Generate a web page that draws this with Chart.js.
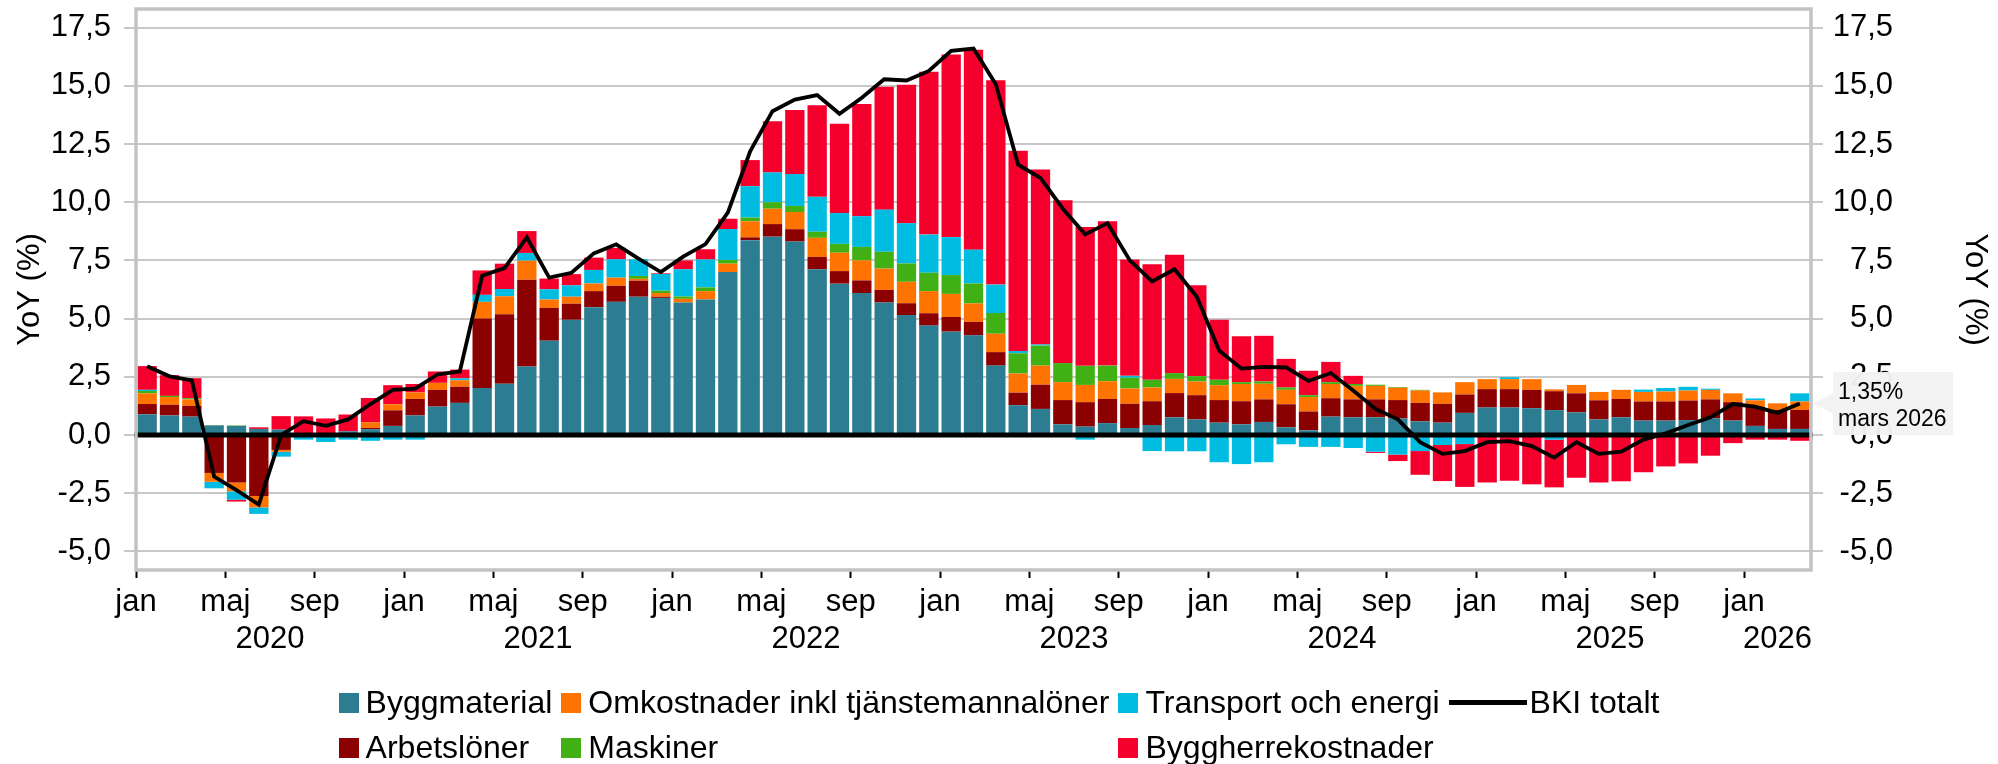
<!DOCTYPE html>
<html lang="sv">
<head>
<meta charset="utf-8">
<title>BKI totalt</title>
<script src="https://cdn.jsdelivr.net/npm/chart.js@4.4.1/dist/chart.umd.min.js"></script>
<style>
  html, body { margin: 0; padding: 0; background: #fff; }
  #wrap { position: relative; width: 1998px; height: 764px; }
  #legend {
    position: absolute; left: 0; top: 684px; width: 1998px;
    display: grid; grid-template-columns: repeat(4, auto); justify-content: center;
    column-gap: 9px; row-gap: 8px;
    font: 32px "Liberation Sans", Arial, sans-serif; color: #000;
  }
  .item { display: flex; align-items: center; height: 37px; white-space: nowrap; }
  .box { width: 20px; height: 20px; margin-right: 7px; }
  .line { width: 78px; height: 5px; background: #000; margin-right: 3px; }
</style>
</head>
<body>
<div id="wrap">
  <canvas id="myChart" width="1998" height="764"></canvas>
  <div id="legend"></div>
</div>
<script>
// months and labels
const monthNames = ['jan', 'feb', 'mar', 'apr', 'maj', 'jun', 'jul', 'aug', 'sep', 'okt', 'nov', 'dec'];
const monthNamesLong = ['januari', 'februari', 'mars', 'april', 'maj', 'juni', 'juli', 'augusti', 'september', 'oktober', 'november', 'december'];
const yearLabels = ['2020', '2021', '2022', '2023', '2024', '2025', '2026'];
const monthCount = 75; // jan 2020 - mars 2026
const yTicks = [-5, -2.5, 0, 2.5, 5, 7.5, 10, 12.5, 15, 17.5];

let categories = [];
for (let i = 0; i < monthCount; i++) {
  categories.push(monthNames[i % 12] + ' ' + yearLabels[Math.floor(i / 12)]);
}

// YoY contributions (%)
const byggmaterial = [0.89,0.84,0.79,0.41,0.39,0.26,0.23,0.05,0.05,0.16,0.25,0.39,
  0.84,1.22,1.38,2.02,2.20,2.94,4.05,4.95,5.49,5.72,5.94,5.89,
  5.69,5.82,7.00,8.37,8.52,8.31,7.12,6.50,6.10,5.69,5.15,4.70,
  4.44,4.28,2.98,1.28,1.12,0.46,0.36,0.51,0.30,0.43,0.76,0.67,
  0.53,0.46,0.56,0.33,0.20,0.79,0.76,0.76,0.71,0.59,0.53,0.95,
  1.18,1.18,1.15,1.07,0.97,0.67,0.76,0.62,0.62,0.64,0.72,0.62,
  0.39,0.26,0.26];
const arbetsloner = [0.44,0.46,0.46,-1.63,-2.04,-2.62,-0.64,0,0,0,0.05,0.67,
  0.71,0.72,0.69,2.98,2.99,3.73,1.41,0.69,0.69,0.69,0.69,0.05,
  0,0,0,0.12,0.54,0.53,0.53,0.54,0.54,0.54,0.51,0.53,
  0.63,0.58,0.58,0.54,1.04,1.04,1.05,1.04,1.04,1.02,1.04,1.04,
  0.97,0.99,0.97,0.99,0.81,0.79,0.77,0.77,0.79,0.79,0.81,0.79,
  0.79,0.79,0.79,0.81,0.82,0.82,0.79,0.82,0.82,0.84,0.81,0.79,
  0.82,0.82,0.82];
const omkostnader = [0.46,0.33,0.28,-0.38,-0.38,-0.49,-0.08,0,0,0,0.25,0.26,
  0.28,0.30,0.28,0.72,0.77,0.82,0.36,0.30,0.33,0.35,0.08,0.16,
  0.16,0.36,0.36,0.69,0.66,0.74,0.82,0.79,0.86,0.92,0.92,0.95,
  0.99,0.79,0.79,0.82,0.82,0.77,0.74,0.76,0.66,0.59,0.61,0.59,
  0.64,0.74,0.67,0.62,0.62,0.61,0.58,0.58,0.53,0.53,0.49,0.53,
  0.43,0.43,0.46,0.08,0.36,0.36,0.39,0.41,0.43,0.43,0.41,0.38,
  0.28,0.28,0.36];
const maskiner = [0.10,0.05,0.05,0.02,0.02,0,0,0,0,0,0,0,
  0,0,0,0,0,0,0,0,0,0,0.12,0.10,
  0.10,0.16,0.16,0.16,0.28,0.26,0.26,0.38,0.58,0.72,0.79,0.79,
  0.81,0.86,0.89,0.87,0.86,0.82,0.82,0.67,0.46,0.33,0.25,0.23,
  0.23,0.08,0.10,0.10,0.08,0.08,0.08,0.05,0.03,0.03,0,0,
  0,0,0,0,0,0,0,0,0,0,0,0,
  0,0,0];
const transport = [0.05,0,0,-0.28,-0.36,-0.28,-0.21,-0.20,-0.30,-0.20,-0.25,-0.20,
  -0.20,0,0.08,0.30,0.31,0.33,0.44,0.49,0.58,0.79,0.72,0.72,
  1.17,1.20,1.33,1.35,1.28,1.37,1.50,1.33,1.32,1.81,1.73,1.64,
  1.63,1.45,1.22,0.10,0.05,0,-0.20,0,0.08,-0.69,-0.70,-0.70,
  -1.17,-1.25,-1.17,-0.40,-0.51,-0.51,-0.56,-0.72,-0.84,-0.69,-0.43,-0.39,
  0,0.08,0,-0.20,0,0,0,0.10,0.15,0.16,0.05,0,
  0.08,0,0.35];
const byggherre = [1.02,0.89,0.86,0,-0.08,0.07,0.58,0.75,0.66,0.72,1.04,0.82,
  0.36,0.49,0.38,1.05,1.09,0.94,0.46,0.48,0.53,0.49,0,0.03,
  0.38,0.44,0.44,1.12,2.20,2.75,3.93,3.83,4.82,5.28,5.95,6.99,
  7.85,8.59,8.78,8.60,7.52,6.99,5.97,6.20,5.00,4.97,5.08,3.90,
  2.58,1.97,1.96,1.23,1.05,0.87,0.35,-0.05,-0.28,-1.02,-1.55,-1.84,
  -2.04,-1.97,-2.12,-2.05,-1.84,-2.04,-1.99,-1.60,-1.35,-1.22,-0.89,-0.35,
  -0.20,-0.20,-0.25];
const bkiTotalt = [2.95,2.52,2.35,-1.79,-2.37,-2.99,0.00,0.59,0.39,0.67,1.33,1.94,
  1.99,2.60,2.73,6.84,7.17,8.49,6.76,6.97,7.80,8.19,7.58,7.00,
  7.66,8.20,9.55,12.19,13.91,14.41,14.60,13.80,14.49,15.28,15.23,15.64,
  16.50,16.60,15.07,11.61,11.04,9.72,8.62,9.10,7.50,6.60,7.12,5.94,
  3.63,2.85,2.93,2.90,2.32,2.66,1.91,1.12,0.67,-0.31,-0.81,-0.69,
  -0.31,-0.26,-0.48,-0.97,-0.31,-0.81,-0.72,-0.20,0.07,0.43,0.76,1.33,
  1.22,0.95,1.35];

const fontFamily = '"Liberation Sans", Arial, sans-serif';
Chart.defaults.font.family = fontFamily;
Chart.defaults.font.size = 31;
Chart.defaults.color = '#000';

// x tick list: month names at every 4th month boundary, years under the middle of each year
let xTicks = [];
for (let i = 0; i < monthCount; i += 4) {
  xTicks.push({ value: i, label: monthNames[i % 12], month: true });
}
yearLabels.forEach(function(y, k) {
  const start = k * 12;
  const end = Math.min(start + 12, monthCount);
  xTicks.push({ value: (start + end) / 2, label: ['', y], month: false });
});
xTicks.sort((a, b) => a.value - b.value);

function fmt(v) {
  return v.toFixed(1).replace('.', ',');
}

const barSeries = [
  { label: 'Byggmaterial', data: byggmaterial, color: '#2c7c92' },
  { label: 'Arbetslöner', data: arbetsloner, color: '#8b0000' },
  { label: 'Omkostnader inkl tjänstemannalöner', data: omkostnader, color: '#ff7400' },
  { label: 'Maskiner', data: maskiner, color: '#41b014' },
  { label: 'Transport och energi', data: transport, color: '#00bce0' },
  { label: 'Byggherrekostnader', data: byggherre, color: '#f5002c' }
];

let datasets = barSeries.map(s => ({
  type: 'bar',
  label: s.label,
  data: s.data,
  backgroundColor: s.color,
  borderWidth: 0,
  barPercentage: 0.865,
  categoryPercentage: 1,
  order: 1,
  stack: 'bki'
}));
datasets.push({
  type: 'line',
  label: 'BKI totalt',
  data: bkiTotalt,
  borderColor: '#000',
  borderWidth: 3.8,
  pointRadius: 0,
  tension: 0,
  order: 0,
  stack: 'line'
});

// thick zero line, drawn over the bars but under the total line
const zeroLine = {
  id: 'zeroLine',
  beforeDatasetDraw(chart, args) {
    if (args.meta.type !== 'line') return;
    const { ctx, chartArea } = chart;
    const y = chart.scales.y.getPixelForValue(0);
    ctx.save();
    ctx.strokeStyle = '#000';
    ctx.lineWidth = 5;
    ctx.beginPath();
    ctx.moveTo(chartArea.left - 2, y);
    ctx.lineTo(chartArea.right + 2, y);
    ctx.stroke();
    ctx.restore();
  }
};

// grey frame round the plot area
const frame = {
  id: 'frame',
  afterDatasetsDraw(chart) {
    const { ctx, chartArea } = chart;
    ctx.save();
    ctx.strokeStyle = '#c3c3c3';
    ctx.lineWidth = 3.5;
    ctx.strokeRect(chartArea.left, chartArea.top, chartArea.right - chartArea.left, chartArea.bottom - chartArea.top);
    ctx.restore();
  }
};

// label for the last value
const lastLabel = {
  id: 'lastLabel',
  afterDraw(chart) {
    const { ctx, chartArea } = chart;
    const last = bkiTotalt.length - 1;
    const y = chart.scales.y.getPixelForValue(bkiTotalt[last]);
    const x0 = chartArea.right + 22;
    const w = 120, h = 63;
    ctx.save();
    ctx.fillStyle = 'rgba(242,242,242,0.96)';
    ctx.beginPath();
    ctx.moveTo(chartArea.right + 2, y);
    ctx.lineTo(x0, y - 10);
    ctx.lineTo(x0, y - h / 2);
    ctx.lineTo(x0 + w, y - h / 2);
    ctx.lineTo(x0 + w, y + h / 2);
    ctx.lineTo(x0, y + h / 2);
    ctx.lineTo(x0, y + 10);
    ctx.closePath();
    ctx.fill();
    ctx.fillStyle = '#000';
    ctx.font = '23px ' + fontFamily;
    ctx.textBaseline = 'alphabetic';
    ctx.textAlign = 'left';
    ctx.fillText(bkiTotalt[last].toFixed(2).replace('.', ',') + '%', x0 + 5, y - 5);
    ctx.fillText(monthNamesLong[last % 12] + ' ' + yearLabels[Math.floor(last / 12)], x0 + 5, y + 22);
    ctx.restore();
  }
};

function setYTicks(scale) {
  scale.ticks = yTicks.map(v => ({ value: v }));
}

const ctx = document.getElementById('myChart');
const myChart = new Chart(ctx, {
  data: { labels: categories, datasets: datasets },
  options: {
    responsive: false,
    maintainAspectRatio: false,
    animation: false,
    devicePixelRatio: 1,
    // right padding so that the right tick labels end (right aligned) at x = 1893
    layout: { padding: { top: 9, left: 0, right: 105, bottom: 0 } },
    plugins: { legend: { display: false }, tooltip: { enabled: false } },
    scales: {
      x: {
        type: 'category',
        display: false,
        stacked: true,
        offset: true
      },
      xt: {
        type: 'linear',
        position: 'bottom',
        min: 0,
        max: monthCount,
        afterBuildTicks: function(scale) {
          scale.ticks = xTicks.map(t => ({ value: t.value }));
        },
        afterFit: function(scale) {
          scale.height = 194;
          scale.paddingLeft = 0;
          scale.paddingRight = 0;
        },
        border: { display: false },
        grid: {
          drawOnChartArea: false,
          drawTicks: true,
          tickLength: 8,
          tickWidth: 2,
          tickColor: c => (xTicks[c.index] && xTicks[c.index].month) ? '#000' : 'rgba(0,0,0,0)'
        },
        ticks: {
          autoSkip: false,
          maxRotation: 0,
          padding: 6,
          font: { size: 31 },
          callback: (value, index) => xTicks[index] ? xTicks[index].label : ''
        }
      },
      y: {
        type: 'linear',
        position: 'left',
        stacked: true,
        min: -5.8,
        max: 18.3,
        afterBuildTicks: setYTicks,
        afterFit: function(scale) {
          scale.width = 136;
          scale.paddingTop = 0;
          scale.paddingBottom = 0;
        },
        border: { display: false },
        grid: { color: '#c8c8c8', lineWidth: 2, tickLength: 12 },
        ticks: { padding: 13, font: { size: 31 }, callback: v => fmt(v) },
        title: { display: true, text: 'YoY (%)', font: { size: 31 }, padding: { top: 12 } }
      },
      y2: {
        type: 'linear',
        position: 'right',
        min: -5.8,
        max: 18.3,
        afterBuildTicks: setYTicks,
        afterFit: function(scale) {
          scale.width = 82;
          scale.paddingTop = 0;
          scale.paddingBottom = 0;
        },
        border: { display: false },
        grid: { drawOnChartArea: false, color: '#c8c8c8', lineWidth: 2, tickLength: 12 },
        ticks: { padding: 12, crossAlign: 'far', font: { size: 31 }, callback: v => fmt(v) },
        // title sits out in the padding area, at x = 1975
        title: { display: true, text: 'YoY (%)', font: { size: 31 }, padding: { top: -100 } }
      }
    }
  },
  plugins: [zeroLine, frame, lastLabel]
});

// legend in two rows, columns lined up like the original
const legendOrder = [0, 2, 4, 'line', 1, 3, 5];
const legendEl = document.getElementById('legend');
legendOrder.forEach(function(k) {
  const item = document.createElement('div');
  item.className = 'item';
  const mark = document.createElement('span');
  if (k === 'line') {
    mark.className = 'line';
    item.appendChild(mark);
    item.appendChild(document.createTextNode('BKI totalt'));
  } else {
    mark.className = 'box';
    mark.style.background = barSeries[k].color;
    item.appendChild(mark);
    item.appendChild(document.createTextNode(barSeries[k].label));
  }
  legendEl.appendChild(item);
});
</script>
</body>
</html>
